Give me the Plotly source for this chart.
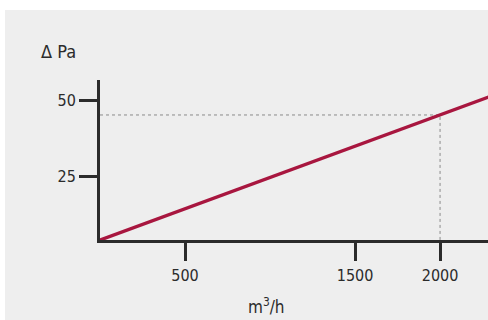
import plotly.graph_objects as go

# Data
flow = [0, 2000, 2300]            # m3/h
pressure = [4.2, 45.3, 51.5]      # Pa
ref_index = 1                     # reference point (2000 m3/h)
x_ticks = [500, 1500, 2000]
y_ticks = [25, 50]

AXIS = "#2b2b2b"
FONT = "DejaVu Sans Condensed, Liberation Sans Narrow, sans-serif"
BG = "#eeeeee"

rx, ry = flow[ref_index], pressure[ref_index]
y_min, y_max = 4.2, 56.8

fig = go.Figure()

# guide lines to the reference point
fig.add_trace(go.Scatter(
    x=[0, rx, rx], y=[ry, ry, y_min],
    mode="lines", line=dict(color="#8a8a8a", width=1, dash="dot"),
    hoverinfo="skip", showlegend=False))

# main characteristic line
fig.add_trace(go.Scatter(
    x=flow, y=pressure, mode="lines",
    line=dict(color="#a8163f", width=3.5),
    showlegend=False))

fig.update_layout(
    width=488, height=320, autosize=False,
    margin=dict(l=100, r=0, t=80, b=80, pad=0),
    paper_bgcolor=BG, plot_bgcolor=BG,
    font=dict(family=FONT, color=AXIS, size=16),
    showlegend=False,
    xaxis=dict(range=[0, 2282], tickvals=x_ticks, ticktext=[str(v) for v in x_ticks],
               showgrid=False, zeroline=False, showline=True, linewidth=3, linecolor=AXIS,
               ticks="outside", ticklen=18, tickwidth=3, tickcolor=AXIS,
               ticklabelstandoff=1, tickfont=dict(size=16, family=FONT, color=AXIS)),
    yaxis=dict(range=[y_min, y_max], tickvals=y_ticks, ticktext=[str(v) for v in y_ticks],
               showgrid=False, zeroline=False, showline=True, linewidth=3, linecolor=AXIS,
               ticks="outside", ticklen=18, tickwidth=3, tickcolor=AXIS,
               ticklabelstandoff=0, tickfont=dict(size=16, family=FONT, color=AXIS)),
    shapes=[
        # white strips framing the grey panel
        dict(type="rect", xref="paper", yref="paper", x0=-0.3, x1=1.1, y0=1.4375, y1=1.6,
             fillcolor="white", line=dict(width=0), layer="below"),
        dict(type="rect", xref="paper", yref="paper", x0=-0.3, x1=-0.2448, y0=-0.6, y1=1.6,
             fillcolor="white", line=dict(width=0), layer="below"),
    ],
    annotations=[
        dict(text="\u0394 Pa", xref="paper", yref="paper", x=-0.108, y=1.181,
             xanchor="center", yanchor="middle", showarrow=False,
             font=dict(size=18, family=FONT, color=AXIS)),
        dict(text="m<sup>3</sup>/h", xref="paper", yref="paper", x=0.428, y=-0.41,
             xanchor="center", yanchor="middle", showarrow=False,
             font=dict(size=17, family=FONT, color=AXIS)),
    ],
)

fig.write_html("out.html", config={"displayModeBar": False, "staticPlot": True},
               post_script="document.body.style.margin='0';document.body.style.overflow='hidden';")
